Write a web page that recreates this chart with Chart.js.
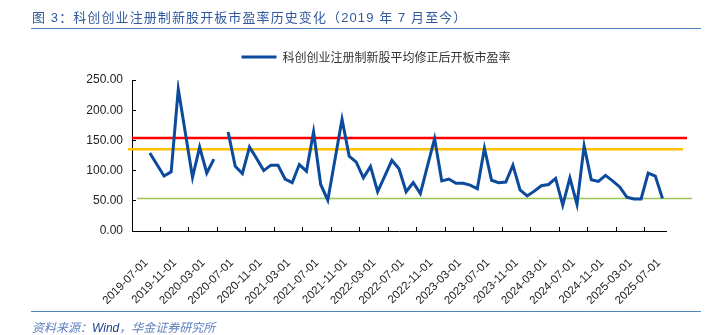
<!DOCTYPE html>
<html>
<head>
<meta charset="utf-8">
<script src="https://cdn.jsdelivr.net/npm/chart.js@4.4.1/dist/chart.umd.min.js"></script>
<style>
  body { margin: 0; background: #fff; }
  #wrap { position: relative; width: 722px; height: 335px; overflow: hidden; }
  #box { position: absolute; left: 0; top: 0; width: 722px; height: 335px; }
  #title { position: absolute; left: 32px; top: 7px; font: 13px "Liberation Sans", "Noto Sans CJK SC", sans-serif; letter-spacing: 1.1px; color: #30599f; white-space: nowrap; }
  #topRule { position: absolute; left: 31px; top: 28px; width: 670px; border-top: 1.5px solid #4f86c0; }
  #footRule { position: absolute; left: 31px; top: 311px; width: 670px; border-top: 1.5px solid #4f86c0; }
  #source { position: absolute; left: 32px; top: 318px; font: italic 12px "Liberation Sans", "Noto Sans CJK SC", sans-serif; color: #5b7fbf; white-space: nowrap; }
  #source b { font-weight: normal; color: #1f3f8f; }
</style>
</head>
<body>
<div id="wrap">
  <div id="box"><canvas id="pe-chart"></canvas></div>
  <div id="title">图 3：科创创业注册制新股开板市盈率历史变化（2019 年 7 月至今）</div>
  <div id="topRule"></div>
  <div id="footRule"></div>
  <div id="source">资料来源：<b>Wind</b>，华金证券研究所</div>
</div>
<script>
const seriesName = '科创创业注册制新股平均修正后开板市盈率';

const months = [
  '2019-07-01', '2019-08-01', '2019-09-01', '2019-10-01', '2019-11-01', '2019-12-01',
  '2020-01-01', '2020-02-01', '2020-03-01', '2020-04-01', '2020-05-01', '2020-06-01',
  '2020-07-01', '2020-08-01', '2020-09-01', '2020-10-01', '2020-11-01', '2020-12-01',
  '2021-01-01', '2021-02-01', '2021-03-01', '2021-04-01', '2021-05-01', '2021-06-01',
  '2021-07-01', '2021-08-01', '2021-09-01', '2021-10-01', '2021-11-01', '2021-12-01',
  '2022-01-01', '2022-02-01', '2022-03-01', '2022-04-01', '2022-05-01', '2022-06-01',
  '2022-07-01', '2022-08-01', '2022-09-01', '2022-10-01', '2022-11-01', '2022-12-01',
  '2023-01-01', '2023-02-01', '2023-03-01', '2023-04-01', '2023-05-01', '2023-06-01',
  '2023-07-01', '2023-08-01', '2023-09-01', '2023-10-01', '2023-11-01', '2023-12-01',
  '2024-01-01', '2024-02-01', '2024-03-01', '2024-04-01', '2024-05-01', '2024-06-01',
  '2024-07-01', '2024-08-01', '2024-09-01', '2024-10-01', '2024-11-01', '2024-12-01',
  '2025-01-01', '2025-02-01', '2025-03-01', '2025-04-01', '2025-05-01', '2025-06-01',
  '2025-07-01', '2025-08-01', '2025-09-01'
];

// monthly average PE, null = no listing that month
const peValues = [
  null, null, 129, 110, 91, 98,
  235, 162, 89, 139, 96, 119,
  null, 164, 107, 95, 139, 120,
  100, 109, 109, 86, 80, 110,
  99, 164, 77, 51, 118, 185,
  124, 114, 88, 107, 65, 91,
  117, 103, 65, 80, 62, 108,
  153, 83, 86, 79, 79, 76,
  70, 137, 84, 80, 81, 109,
  68, 58, 66, 75, 77, 87,
  43, 88, 44, 141, 85, 82,
  92, 83, 73, 56, 53, 53,
  96, 91, 54
];

// red / orange / green reference levels
const refValues = [154, 135.5, 54];

const yTicks = [0, 50, 100, 150, 200, 250];

const refStyles = [
  { color: '#ff0000', width: 2.5, from: 0, to: 21 },
  { color: '#ffc000', width: 2.5, from: -4, to: 17 },
  { color: '#9bc45a', width: 1.5, from: 5, to: 26 }
];

const axisFont = { family: '"Liberation Sans", Arial, sans-serif', size: 12 };

// extra room between legend and plot
const legendGap = {
  id: 'legendGap',
  beforeLayout(chart) {
    const legend = chart.legend;
    if (!legend || legend._gapDone) return;
    const fit = legend.fit;
    legend.fit = function () { fit.call(this); this.height += 7; };
    legend._gapDone = true;
  }
};

const refLines = {
  id: 'refLines',
  beforeDatasetsDraw(chart) {
    const { ctx, chartArea, scales } = chart;
    refValues.forEach((v, k) => {
      const st = refStyles[k];
      const py = scales.y.getPixelForValue(v);
      ctx.save();
      ctx.strokeStyle = st.color;
      ctx.lineWidth = st.width;
      ctx.beginPath();
      ctx.moveTo(chartArea.left + st.from, py);
      ctx.lineTo(chartArea.right + st.to, py);
      ctx.stroke();
      ctx.restore();
    });
  }
};

new Chart(document.getElementById('pe-chart'), {
  type: 'line',
  data: {
    labels: months,
    datasets: [{
      label: seriesName,
      data: peValues,
      borderColor: '#0b4a9c',
      backgroundColor: '#0b4a9c',
      borderWidth: 3,
      pointRadius: 0,
      tension: 0,
      spanGaps: false
    }]
  },
  options: {
    animation: false,
    responsive: true,
    maintainAspectRatio: false,
    layout: { padding: { top: 34, left: 86, right: 56, bottom: 30 } },
    plugins: {
      legend: {
        labels: {
          usePointStyle: true,
          pointStyle: 'line',
          pointStyleWidth: 35,
          padding: 17,
          color: '#333',
          font: { family: '"Noto Sans CJK SC", sans-serif', size: 12 }
        }
      },
      tooltip: { enabled: false }
    },
    scales: {
      x: {
        offset: true,
        afterFit: (s) => { s.height = 74; },
        grid: {
          offset: true,
          drawOnChartArea: false,
          tickLength: -4,
          color: (ctx) => ctx.index % 4 === 0 ? '#000' : 'rgba(0,0,0,0)'
        },
        border: { color: '#000', width: 1 },
        ticks: {
          autoSkip: false,
          minRotation: 45,
          maxRotation: 45,
          padding: 29,
          labelOffset: 10.7,
          color: '#222',
          font: { family: axisFont.family, size: 11.5 },
          callback: (v, i) => i % 4 === 0 ? months[i] : ''
        }
      },
      y: {
        min: yTicks[0],
        max: yTicks[yTicks.length - 1],
        afterFit: (s) => { s.width = 46; },
        afterBuildTicks: (s) => { s.ticks = yTicks.map(v => ({ value: v })); },
        grid: { drawOnChartArea: false, tickLength: -4, color: '#000' },
        border: { color: '#000', width: 1 },
        ticks: {
          padding: 13,
          color: '#222',
          font: axisFont,
          callback: (v) => Number(v).toFixed(2)
        }
      }
    }
  },
  plugins: [legendGap, refLines]
});
</script>
</body>
</html>
